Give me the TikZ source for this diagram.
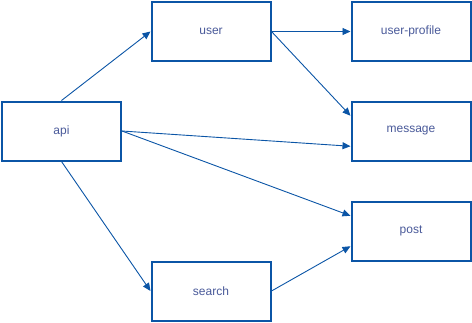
\documentclass[tikz,border=0pt]{standalone}
\usepackage{fontspec}
\setmainfont{Liberation Sans}
\usetikzlibrary{arrows.meta,calc}
\definecolor{edge}{HTML}{0B55A6}
\definecolor{txt}{HTML}{4A5A9A}
\begin{document}
\begin{tikzpicture}[x=1pt,y=-1pt,
  box/.style={draw=edge,line width=2pt,fill=white,minimum width=119pt,minimum height=59pt,inner sep=0pt,text=txt,font=\fontsize{12}{14}\selectfont},
  conn/.style={draw=edge,line width=0.9pt,-{Triangle[length=8pt,width=7pt]}}]
\useasboundingbox (0,0) rectangle (472,322);
\node[box] (api) at (61.5,131) {api};
\node[box] (user) at (211,31.5) {user};
\node[box] (search) at (211,291) {search};
\node[box] (profile) at (411,31.5) {user-profile};
\node[box] (message) at (411,131) {message};
\node[box] (post) at (411,231) {post};
\draw[conn] (api.north) -- (user.west);
\draw[conn] (api.east) -- ($(message.south west)!0.25!(message.north west)$);
\draw[conn] (api.east) -- ($(post.north west)!0.25!(post.south west)$);
\draw[conn] (api.south) -- (search.west);
\draw[conn] (user.east) -- (profile.west);
\draw[conn] (user.east) -- ($(message.north west)!0.25!(message.south west)$);
\draw[conn] (search.east) -- ($(post.south west)!0.25!(post.north west)$);
\end{tikzpicture}
\end{document}
